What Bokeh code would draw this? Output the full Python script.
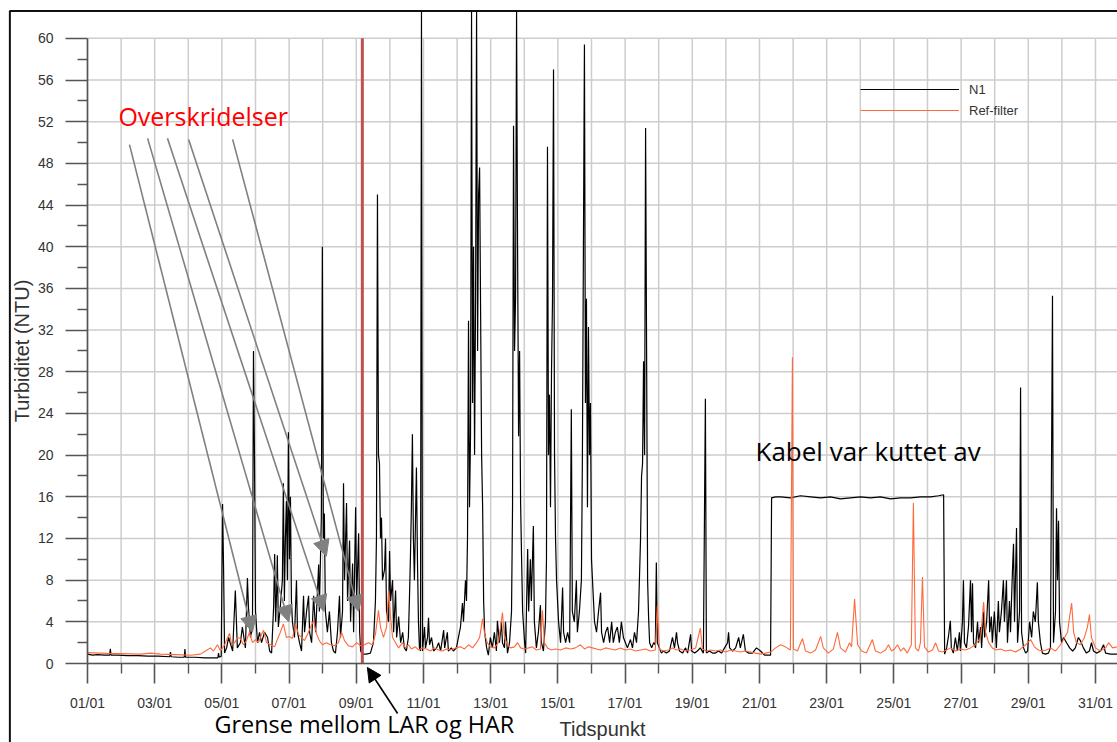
from bokeh.plotting import figure
from bokeh.models import (FixedTicker, Range1d, Label, Arrow, NormalHead, Legend, LegendItem)
from bokeh.embed import file_html
from bokeh.resources import INLINE

# ---------------- data (days since 01/01 00:00, turbidity NTU) ----------------
n1_day = [0.00, 0.15, 0.30, 0.50, 0.66, 0.68, 0.70, 0.90, 1.20, 1.50, 1.80, 2.10, 2.45, 2.47, 2.49,
          2.70, 2.88, 2.90, 2.92, 3.20, 3.50, 3.88, 3.90, 3.92, 3.98,
          4.02, 4.05, 4.08, 4.14, 4.20, 4.32, 4.40, 4.46, 4.55, 4.61, 4.70, 4.76, 4.79, 4.85, 4.91,
          4.94, 4.97, 5.00, 5.06, 5.12, 5.18, 5.27, 5.36, 5.42, 5.48, 5.54, 5.57, 5.60, 5.63, 5.65,
          5.68, 5.74, 5.80, 5.83, 5.86, 5.89, 5.92, 5.95, 5.98, 6.01, 6.04, 6.07, 6.10, 6.16, 6.22,
          6.25, 6.31, 6.37, 6.43, 6.46, 6.52, 6.58, 6.61, 6.67, 6.73, 6.79, 6.88, 6.90, 6.96, 6.99,
          7.02, 7.05, 7.08, 7.14, 7.20, 7.26, 7.32, 7.38, 7.44, 7.50, 7.53, 7.59, 7.62, 7.65, 7.71,
          7.74, 7.80, 7.83, 7.89, 7.92, 7.98, 8.01, 8.07, 8.10, 8.13, 8.18, 8.30, 8.42, 8.51, 8.57,
          8.60, 8.63, 8.66, 8.69, 8.72, 8.75, 8.78, 8.84, 8.87, 8.90, 8.96, 8.99, 9.02, 9.08, 9.11,
          9.17, 9.20, 9.26, 9.32, 9.38, 9.43, 9.49, 9.55, 9.58, 9.61, 9.64, 9.67, 9.70, 9.73, 9.79,
          9.82, 9.85, 9.88, 9.91, 9.94, 9.97, 10.03, 10.06, 10.12, 10.15, 10.18, 10.24, 10.30, 10.39,
          10.45, 10.51, 10.60, 10.63, 10.71, 10.74, 10.83, 10.89, 10.98, 11.04, 11.10, 11.16, 11.19,
          11.25, 11.28, 11.31, 11.34, 11.37, 11.40, 11.43, 11.46, 11.49, 11.52, 11.55, 11.58, 11.61,
          11.64, 11.67, 11.70, 11.73, 11.76, 11.79, 11.82, 11.88, 11.93, 11.99, 12.05, 12.11, 12.17,
          12.20, 12.26, 12.32, 12.35, 12.41, 12.44, 12.50, 12.56, 12.62, 12.65, 12.68, 12.71, 12.74,
          12.77, 12.80, 12.83, 12.86, 12.89, 12.92, 12.95, 13.01, 13.04, 13.10, 13.13, 13.18, 13.21,
          13.27, 13.30, 13.36, 13.42, 13.48, 13.51, 13.57, 13.63, 13.66, 13.69, 13.72, 13.75, 13.78,
          13.81, 13.84, 13.87, 13.90, 13.93, 13.96, 14.02, 14.08, 14.14, 14.17, 14.23, 14.29, 14.35,
          14.40, 14.43, 14.49, 14.55, 14.58, 14.64, 14.70, 14.73, 14.76, 14.79, 14.82, 14.85, 14.88,
          14.91, 14.94, 14.97, 15.00, 15.03, 15.09, 15.15, 15.21, 15.27, 15.30, 15.36, 15.42, 15.48,
          15.54, 15.60, 15.65, 15.71, 15.77, 15.83, 15.89, 15.95, 16.01, 16.07, 16.16, 16.22, 16.28,
          16.34, 16.40, 16.46, 16.49, 16.52, 16.55, 16.58, 16.61, 16.64, 16.67, 16.70, 16.73, 16.79,
          16.85, 16.90, 16.93, 16.96, 17.02, 17.08, 17.14, 17.23, 17.32, 17.41, 17.47, 17.53, 17.56,
          17.62, 17.71, 17.80, 17.86, 17.95, 17.98, 18.07, 18.15, 18.24, 18.33, 18.39, 18.42, 18.51,
          18.60, 18.69, 18.78, 18.87, 18.96, 19.05, 19.08, 19.11, 19.20, 19.29, 19.38, 19.43, 19.52,
          19.58, 19.67, 19.79, 19.91, 20.03, 20.15, 20.27, 20.33, 20.36, 20.48, 20.63, 20.92, 21.22,
          21.52, 21.82, 22.11, 22.41, 22.71, 23.01, 23.30, 23.60, 23.90, 24.20, 24.49, 24.79, 25.09,
          25.33, 25.48, 25.51, 25.57, 25.62, 25.68, 25.71, 25.77, 25.83, 25.89, 25.95, 25.98, 26.04,
          26.07, 26.10, 26.16, 26.22, 26.28, 26.31, 26.34, 26.37, 26.43, 26.49, 26.52, 26.58, 26.61,
          26.67, 26.70, 26.76, 26.82, 26.85, 26.90, 26.93, 26.99, 27.05, 27.11, 27.14, 27.20, 27.26,
          27.29, 27.35, 27.38, 27.44, 27.47, 27.53, 27.56, 27.59, 27.65, 27.68, 27.74, 27.77, 27.80,
          27.86, 27.92, 27.98, 28.04, 28.10, 28.15, 28.21, 28.27, 28.30, 28.36, 28.42, 28.51, 28.60,
          28.66, 28.72, 28.75, 28.81, 28.84, 28.87, 28.90, 28.93, 28.99, 29.05, 29.14, 29.23, 29.32,
          29.40, 29.49, 29.55, 29.64, 29.73, 29.82, 29.88, 29.94, 30.03, 30.15, 30.24, 30.30, 30.45,
          30.65]
n1_val = [0.9, 0.8, 0.85, 0.8, 0.8, 1.4, 0.8, 0.8, 0.75, 0.75, 0.7, 0.7, 0.65, 1.1, 0.65,
          0.6, 0.6, 1.4, 0.6, 0.6, 0.55, 0.55, 1.0, 0.6, 0.7,
          15.3, 9.2, 1.0, 1.5, 2.5, 1.2, 7.0, 1.5, 2.0, 3.5, 1.5, 8.2, 5.5, 2.5, 3.5,
          30.0, 20.0, 5.0, 2.0, 3.0, 2.0, 3.0, 2.5, 1.2, 1.0, 5.5, 10.5, 4.0, 7.0, 10.4,
          3.5, 5.5, 8.0, 17.3, 6.0, 12.0, 15.6, 8.0, 22.2, 10.0, 16.0, 6.0, 4.0, 2.5, 8.0,
          3.0, 2.0, 1.2, 6.5, 3.0, 5.0, 6.5, 3.0, 2.0, 6.5, 3.0, 9.5, 5.0, 14.0, 40.0,
          12.0, 14.4, 5.0, 3.0, 5.0, 2.0, 1.2, 1.0, 3.0, 6.5, 2.5, 5.0, 17.3, 8.0, 15.4,
          6.0, 11.8, 4.0, 9.6, 3.0, 15.0, 6.0, 12.5, 3.0, 1.2, 0.9, 0.9, 1.0, 2.0, 6.0,
          12.0, 45.0, 20.0, 19.2, 12.0, 14.0, 8.0, 9.0, 12.0, 5.0, 4.0, 10.8, 6.0, 8.0, 3.0,
          7.0, 2.5, 4.5, 2.0, 3.0, 1.5, 1.2, 2.5, 6.0, 10.0, 15.0, 22.0, 12.0, 8.0, 18.8,
          10.0, 4.0, 1.5, 1.2, 62.6, 1.2, 3.5, 1.5, 2.5, 4.4, 1.8, 2.5, 1.2, 1.5,
          2.0, 1.2, 3.2, 1.5, 3.0, 1.2, 1.5, 1.2, 1.5, 2.5, 3.5, 5.8, 4.0,
          8.0, 6.0, 12.0, 32.9, 15.0, 22.0, 62.6, 25.0, 40.0, 20.0, 35.0, 62.6, 30.0,
          45.0, 47.6, 33.6, 20.0, 15.0, 6.0, 3.0, 1.5, 0.8, 2.5, 1.5, 3.0, 1.2,
          4.1, 2.0, 4.0, 2.0, 1.5, 4.0, 1.0, 2.0, 5.0, 15.0, 51.6, 30.0, 35.0,
          62.6, 40.0, 21.8, 30.0, 15.5, 10.0, 5.0, 2.0, 1.0, 11.0, 5.0, 10.0, 6.0,
          13.2, 4.0, 1.5, 3.0, 5.6, 2.0, 1.2, 4.0, 10.0, 49.6, 20.0, 25.8, 15.0,
          28.0, 35.0, 57.0, 20.0, 12.0, 8.0, 4.0, 2.0, 7.3, 3.0, 2.0, 3.0, 2.0,
          24.4, 5.0, 4.0, 8.0, 3.0, 5.0, 8.0, 20.0, 40.0, 59.4, 25.0, 35.0, 15.0,
          32.3, 20.0, 25.0, 10.0, 8.0, 4.0, 3.0, 5.0, 6.8, 3.0, 2.0, 3.0, 3.5,
          2.0, 4.0, 2.0, 3.0, 3.5, 2.0, 4.0, 2.5, 2.0, 1.5, 2.3, 1.5, 3.0,
          2.0, 5.0, 12.0, 18.0, 19.2, 29.0, 20.0, 51.4, 30.0, 8.0, 4.4, 2.0, 1.5,
          2.0, 1.8, 9.7, 2.0, 1.5, 1.0, 1.2, 1.0, 1.2, 2.5, 1.5, 3.0, 2.0,
          1.2, 1.0, 1.5, 1.0, 2.8, 1.2, 1.0, 1.2, 1.5, 1.0, 25.4, 1.0, 1.2,
          1.0, 1.0, 1.2, 1.0, 1.5, 2.0, 3.0, 1.5, 1.2, 1.5, 2.5, 1.5, 2.8,
          1.2, 1.0, 1.0, 1.5, 1.2, 0.8, 0.8, 0.8, 15.9, 16.0, 16.0, 15.9, 16.1,
          16.0, 15.9, 16.0, 15.8, 15.9, 16.0, 15.9, 16.0, 15.8, 15.9, 15.9, 16.0, 16.0,
          16.1, 16.2, 0.9, 1.5, 2.5, 4.1, 1.5, 1.0, 2.5, 1.2, 3.0, 1.2, 4.0,
          8.0, 2.0, 1.5, 3.5, 8.0, 3.0, 7.7, 2.0, 1.5, 4.0, 2.0, 3.5, 1.5,
          5.0, 2.5, 4.0, 8.0, 3.0, 4.5, 2.0, 5.0, 1.5, 6.0, 3.0, 5.0, 8.0,
          4.0, 8.0, 2.0, 6.0, 3.0, 9.0, 11.5, 4.0, 13.0, 2.0, 5.0, 26.5, 3.0,
          1.5, 1.0, 1.2, 4.0, 2.5, 5.0, 4.0, 7.8, 4.0, 2.0, 1.0, 0.9, 1.0,
          1.5, 35.3, 2.0, 5.0, 14.9, 8.0, 13.7, 4.0, 2.0, 2.5, 2.0, 1.5, 1.2,
          1.5, 2.5, 2.2, 1.5, 1.0, 1.2, 2.0, 1.2, 1.0, 1.2, 1.8, 1.0, 0.9,
          0.9]

ref_day = [0.00, 0.39, 0.68, 0.98, 1.58, 1.88, 2.17, 2.62, 3.07, 3.36, 3.51, 3.66, 3.75, 3.87,
           3.96, 4.08, 4.17, 4.23, 4.29, 4.38, 4.46, 4.55, 4.64, 4.73, 4.82, 4.91, 5.00, 5.09,
           5.18, 5.24, 5.33, 5.45, 5.57, 5.65, 5.74, 5.83, 5.92, 6.01, 6.10, 6.19, 6.28, 6.37,
           6.46, 6.55, 6.64, 6.73, 6.82, 6.90, 6.99, 7.11, 7.23, 7.35, 7.47, 7.56, 7.65, 7.77,
           7.89, 8.01, 8.13, 8.24, 8.36, 8.48, 8.57, 8.66, 8.72, 8.81, 8.90, 8.96, 9.02, 9.08,
           9.17, 9.26, 9.38, 9.46, 9.55, 9.64, 9.76, 9.85, 9.97, 10.09, 10.21, 10.33, 10.45,
           10.57, 10.68, 10.80, 10.95, 11.10, 11.22, 11.34, 11.46, 11.58, 11.67, 11.76, 11.82,
           11.90, 11.99, 12.11, 12.23, 12.35, 12.41, 12.50, 12.59, 12.71, 12.80, 12.89, 13.01,
           13.13, 13.24, 13.36, 13.48, 13.54, 13.60, 13.69, 13.81, 13.93, 14.08, 14.23, 14.38,
           14.52, 14.67, 14.79, 14.91, 15.03, 15.15, 15.27, 15.42, 15.57, 15.71, 15.86, 16.01,
           16.16, 16.31, 16.46, 16.61, 16.76, 16.90, 16.96, 17.02, 17.14, 17.29, 17.41, 17.53,
           17.65, 17.80, 17.95, 18.10, 18.24, 18.30, 18.42, 18.54, 18.69, 18.84, 18.99, 19.14,
           19.29, 19.43, 19.58, 19.73, 19.88, 20.03, 20.18, 20.33, 20.48, 20.63, 20.77, 20.92,
           20.98, 21.01, 21.13, 21.28, 21.37, 21.52, 21.67, 21.82, 21.90, 22.05, 22.20, 22.32,
           22.41, 22.56, 22.68, 22.74, 22.83, 22.92, 23.04, 23.18, 23.36, 23.45, 23.60, 23.75,
           23.84, 23.93, 24.02, 24.11, 24.20, 24.29, 24.40, 24.52, 24.58, 24.64, 24.73, 24.79,
           24.85, 24.91, 25.03, 25.15, 25.24, 25.33, 25.45, 25.57, 25.68, 25.83, 25.98, 26.13,
           26.28, 26.43, 26.58, 26.67, 26.73, 26.82, 26.93, 27.05, 27.17, 27.32, 27.47, 27.62,
           27.77, 27.92, 28.07, 28.18, 28.30, 28.42, 28.54, 28.66, 28.81, 28.96, 29.08, 29.17,
           29.23, 29.29, 29.35, 29.43, 29.55, 29.67, 29.76, 29.82, 29.88, 30.00, 30.15, 30.30,
           30.39, 30.51, 30.65]
ref_val = [1.05, 1.0, 0.95, 0.95, 0.9, 1.0, 0.9, 0.85, 0.8, 0.9, 1.2, 1.5, 1.2, 1.8,
           1.2, 1.8, 2.5, 2.9, 1.8, 2.0, 2.5, 2.4, 1.8, 2.2, 3.0, 2.0, 2.3, 2.0,
           2.8, 3.2, 2.0, 1.8, 1.6, 2.3, 3.0, 3.8, 2.5, 2.6, 2.4, 3.8, 2.8, 2.5,
           2.2, 2.8, 3.5, 4.1, 2.8, 2.2, 1.8, 2.0, 1.8, 1.7, 2.0, 3.0, 2.2, 1.7,
           1.6, 2.0, 1.7, 1.8, 2.0, 1.8, 2.8, 5.1, 3.5, 2.5, 3.5, 7.0, 4.5, 2.5,
           2.0, 1.5, 2.0, 1.5, 1.8, 1.4, 1.6, 1.3, 1.5, 1.4, 1.2, 1.5, 1.3,
           1.2, 1.4, 1.3, 1.5, 1.6, 1.4, 1.8, 1.5, 2.0, 2.5, 4.3, 2.8,
           2.0, 1.6, 1.5, 2.0, 4.9, 2.5, 1.8, 1.5, 1.6, 2.0, 1.5, 1.4,
           1.5, 1.6, 1.3, 1.4, 5.1, 2.0, 1.5, 1.3, 1.4, 1.3, 1.5, 1.4,
           1.5, 1.8, 1.4, 1.6, 1.5, 1.4, 1.3, 1.5, 1.4, 1.3, 1.5, 1.3,
           1.4, 1.2, 1.3, 1.4, 1.2, 1.3, 5.6, 1.4, 1.2, 1.3, 1.5, 1.3,
           1.4, 1.2, 1.3, 1.5, 3.4, 1.4, 1.2, 1.3, 1.2, 1.3, 1.1, 1.3,
           1.2, 1.1, 1.2, 1.1, 1.0, 0.9, 1.0, 1.1, 1.5, 1.8, 1.6, 1.3,
           29.4, 1.4, 1.2, 2.4, 1.2, 1.0, 1.3, 2.6, 1.5, 1.0, 1.4, 3.0,
           1.5, 1.1, 2.0, 1.6, 6.2, 1.8, 1.2, 1.0, 2.3, 1.2, 1.0, 1.3,
           1.8, 1.2, 1.4, 1.8, 1.2, 1.5, 1.0, 1.8, 15.4, 1.5, 1.2, 2.0,
           8.3, 1.6, 1.1, 1.3, 2.0, 1.2, 1.1, 1.3, 1.5, 1.2, 1.4, 1.3,
           1.5, 1.8, 2.5, 5.9, 3.0, 2.0, 1.5, 1.3, 1.4, 1.2, 1.3, 1.1,
           1.4, 1.8, 2.3, 1.6, 1.3, 1.2, 1.3, 1.5, 1.2, 1.8, 2.5, 3.0,
           4.5, 5.8, 3.0, 2.0, 1.8, 2.5, 3.5, 4.7, 2.5, 1.5, 1.2, 1.5,
           2.0, 1.5, 1.6]

series_names = ["N1", "Ref-filter"]

x_tick_days = [0, 2, 4, 6, 8, 10, 12, 14, 16, 18, 20, 22, 24, 26, 28, 30]
x_tick_labels = ["01/01", "03/01", "05/01", "07/01", "09/01", "11/01", "13/01", "15/01",
                 "17/01", "19/01", "21/01", "23/01", "25/01", "27/01", "29/01", "31/01"]
x_minor_days = [1, 3, 5, 7, 9, 11, 13, 15, 17, 19, 21, 23, 25, 27, 29]
grid_days = list(range(0, 31))
y_ticks = [0, 4, 8, 12, 16, 20, 24, 28, 32, 36, 40, 44, 48, 52, 56, 60]
y_minor = [2, 6, 10, 14, 18, 22, 26, 30, 34, 38, 42, 46, 50, 54, 58]

grense_day = 8.18   # boundary between LAR and HAR

# annotation arrows: (x_start, y_start, x_end, y_end) in data units
over_arrows = [(1.25, 49.8, 4.91, 3.0),
               (1.79, 50.4, 5.99, 4.0),
               (2.38, 50.4, 7.04, 5.0),
               (3.01, 50.3, 7.11, 10.3),
               (4.32, 50.3, 8.07, 5.0)]

# ---------------- figure ----------------
FONT = "Liberation Sans"
NOTE_FONT = "Open Sans"
AX_COLOR = "#555555"
TXT_COLOR = "#333333"
GRID = "#cdcdcd"

X0, X1 = -2.589, 30.655     # visible day range (axis area included)
Y0, Y1 = -7.58, 63.63       # visible NTU range (axis area included)

p = figure(width=1117, height=742, output_backend="svg", toolbar_location=None,
           x_range=Range1d(X0, X1), y_range=Range1d(Y0, Y1),
           min_border=0, min_border_left=0, min_border_right=0,
           min_border_top=0, min_border_bottom=0)
p.outline_line_color = None
p.background_fill_color = "white"
p.border_fill_color = "white"
p.grid.visible = False

# grid (limited to the 0-60 band, as in the original)
p.segment(x0=grid_days, y0=[0] * len(grid_days), x1=grid_days, y1=[60] * len(grid_days),
          line_color=GRID, line_width=1.5, level="underlay")
p.segment(x0=[0] * len(y_ticks), y0=y_ticks, x1=[X1] * len(y_ticks), y1=y_ticks,
          line_color=GRID, line_width=1.5, level="underlay")

# axes, fixed at the data origin
p.xaxis.fixed_location = 0
p.yaxis.fixed_location = 0
p.xaxis.bounds = (0, 30.95)
p.yaxis.bounds = (0, 60)
p.xaxis.ticker = FixedTicker(ticks=x_tick_days, minor_ticks=x_minor_days)
p.xaxis.major_label_overrides = dict(zip(x_tick_days, x_tick_labels))
p.yaxis.ticker = FixedTicker(ticks=y_ticks, minor_ticks=y_minor)
for ax in (p.xaxis[0], p.yaxis[0]):
    ax.axis_line_color = AX_COLOR
    ax.axis_line_width = 1.6
    ax.major_tick_line_color = AX_COLOR
    ax.minor_tick_line_color = AX_COLOR
    ax.major_tick_line_width = 1.6
    ax.minor_tick_line_width = 1.4
    ax.major_tick_in = 0
    ax.minor_tick_in = 0
    ax.major_label_text_font = FONT
    ax.major_label_text_color = TXT_COLOR
    ax.major_label_text_font_size = "14px"
    ax.axis_label_text_font = FONT
    ax.axis_label_text_font_style = "normal"
    ax.axis_label_text_color = TXT_COLOR
p.xaxis.major_tick_out = 20
p.xaxis.minor_tick_out = 10
p.xaxis.major_label_standoff = 11
p.yaxis.major_tick_out = 22
p.yaxis.minor_tick_out = 10
p.yaxis.major_label_standoff = 12
p.xaxis.axis_label = "Tidspunkt"
p.xaxis.axis_label_text_font_size = "20px"
p.xaxis.axis_label_standoff = 4
p.yaxis.axis_label = "Turbiditet (NTU)"
p.yaxis.axis_label_text_font_size = "20px"
p.yaxis.axis_label_standoff = 2

# outer frame of the chart (left and top edges visible)
p.line(x=[-2.31, -2.31, X1], y=[Y0, 62.62, 62.62], line_color="#111111", line_width=2)

# series
r_n1 = p.line(n1_day, n1_val, line_color="black", line_width=1.2)
r_ref = p.line(ref_day, ref_val, line_color="#ff6a3d", line_width=1.1)

# boundary line LAR / HAR
p.segment(x0=[grense_day], y0=[0], x1=[grense_day], y1=[60], line_color="#c0504d", line_width=3)

legend = Legend(items=[LegendItem(label=series_names[0], renderers=[r_n1]),
                       LegendItem(label=series_names[1], renderers=[r_ref])],
                location=(860, 622), border_line_color=None, background_fill_alpha=0,
                glyph_width=99, glyph_height=20, label_height=20, spacing=1, padding=0, margin=0,
                label_standoff=10, label_text_font=FONT, label_text_font_size="13px",
                label_text_color=TXT_COLOR)
p.add_layout(legend)

# annotations
p.add_layout(Label(x=0.92, y=52.5, text="Overskridelser", text_color="#ff0000",
                   text_font=NOTE_FONT, text_font_size="25px", text_baseline="alphabetic"))
for (xs, ys, xe, ye) in over_arrows:
    p.add_layout(Arrow(x_start=xs, y_start=ys, x_end=xe, y_end=ye, line_color="#808080",
                       line_width=1.6,
                       end=NormalHead(size=16, fill_color="#808080", line_color="#808080")))

p.add_layout(Label(x=19.88, y=20.35, text="Kabel var kuttet av", text_color="black",
                   text_font=NOTE_FONT, text_font_size="26px", text_baseline="alphabetic"))
p.add_layout(Label(x=3.78, y=-5.85, text="Grense mellom LAR og HAR", text_color="black",
                   text_font=NOTE_FONT, text_font_size="23.4px", text_baseline="alphabetic"))
p.add_layout(Arrow(x_start=9.23, y_start=-4.8, x_end=8.33, y_end=-0.38, line_color="black",
                   line_width=1.6, end=NormalHead(size=14, fill_color="black", line_color="black")))

open("out.html", "w").write(file_html(p, INLINE))
